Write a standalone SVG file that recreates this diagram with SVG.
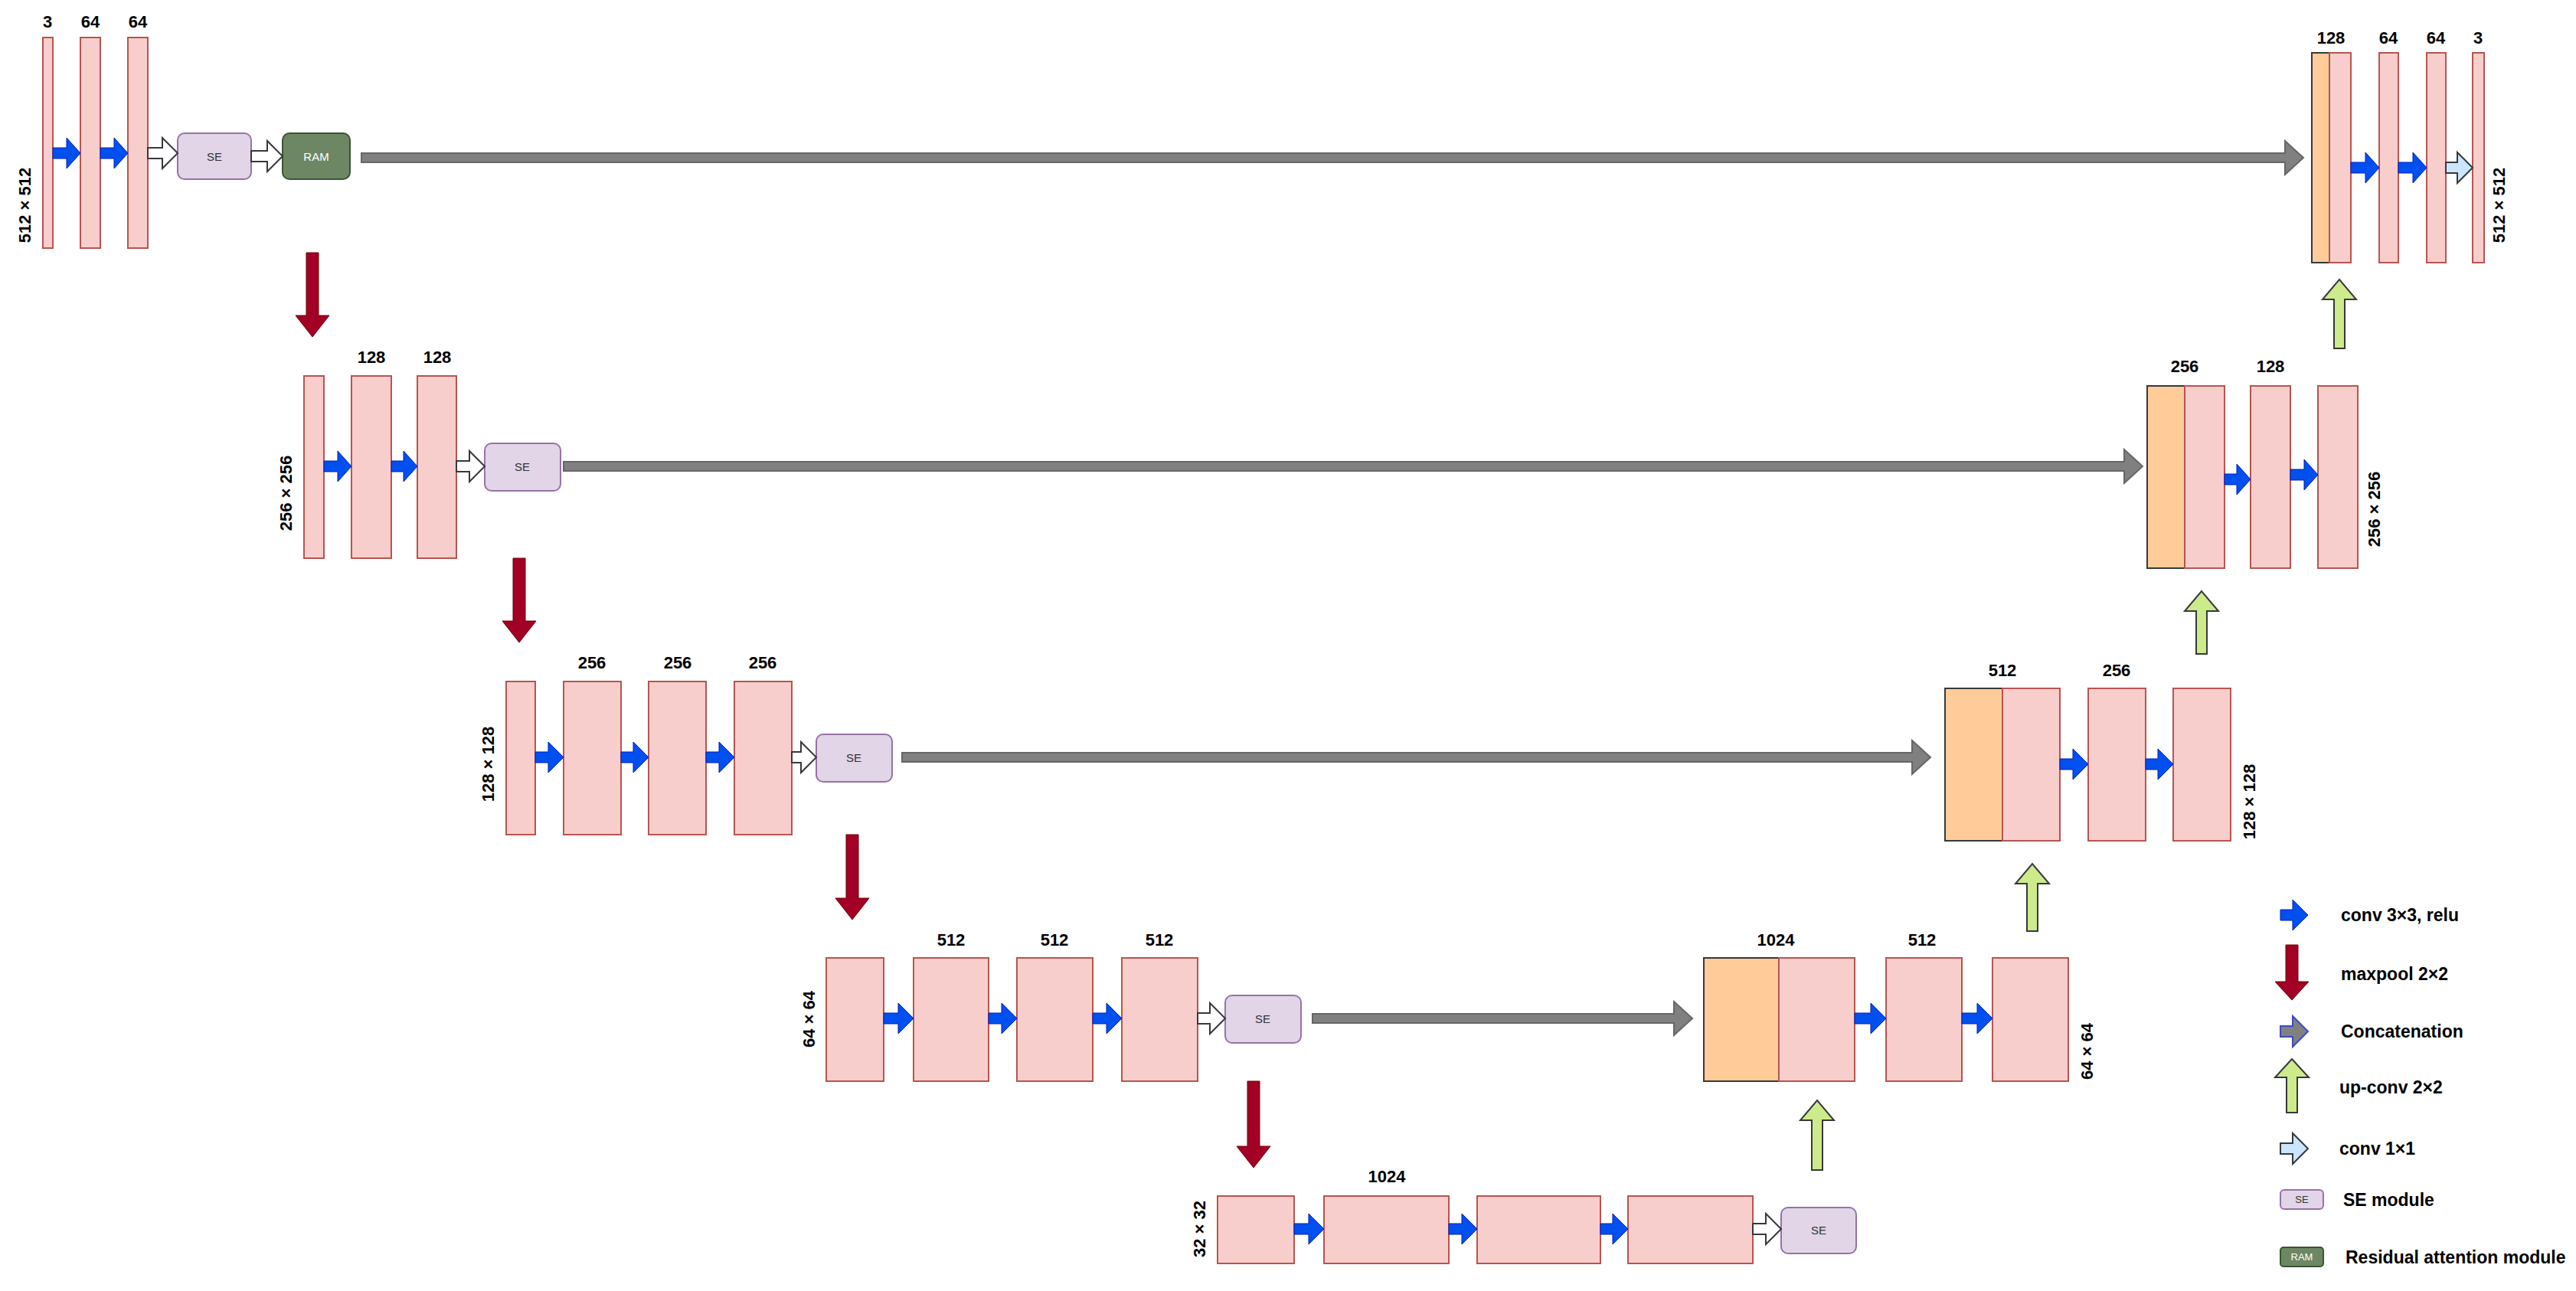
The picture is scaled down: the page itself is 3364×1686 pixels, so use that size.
<svg xmlns="http://www.w3.org/2000/svg" width="3364" height="1686" viewBox="0 0 3364 1686">
<style>
.b{fill:#f8cecc;stroke:#b85450;stroke-width:2}
.o{fill:#ffcc99;stroke:#36393d;stroke-width:2}
.se{fill:#e1d5e7;stroke:#9673a6;stroke-width:2}
.ram{fill:#6d8764;stroke:#3a5431;stroke-width:2}
.cv{fill:#0050ef;stroke:#001dbc;stroke-width:1}
.h{fill:#ffffff;stroke:#36393d;stroke-width:2}
.lb{fill:#cce5ff;stroke:#36393d;stroke-width:2}
.g{fill:#808080;stroke:#666666;stroke-width:2}
.r{fill:#a20025;stroke:#6f0000;stroke-width:1}
.u{fill:#cdeb8b;stroke:#36393d;stroke-width:2}
text{font-family:"Liberation Sans",Arial,sans-serif}
.t{font-size:22px;font-weight:bold;fill:#000;text-anchor:middle}
.s{font-size:15px;fill:#333;text-anchor:middle}
.sw{font-size:15px;fill:#fff;text-anchor:middle}
.lg{font-size:23px;font-weight:bold;fill:#000}
</style>
<rect width="3364" height="1686" fill="#fff"/>

<g id="level1-encoder">
<rect class="b" x="56" y="49" width="13" height="275"/>
<rect class="b" x="105" y="49" width="26" height="275"/>
<rect class="b" x="167" y="49" width="26" height="275"/>
<text class="t" x="62" y="36">3</text><text class="t" x="118" y="36">64</text><text class="t" x="180" y="36">64</text>
<text class="t" transform="translate(40 268) rotate(-90)">512 × 512</text>
</g>
<g id="se1"><rect class="se" x="232" y="174" width="96" height="60" rx="9"/><text class="s" x="280" y="210">SE</text></g>
<g id="ram1"><rect class="ram" x="369" y="174" width="88" height="60" rx="9"/><text class="sw" x="413" y="210">RAM</text></g>

<g id="level1-decoder">
<rect class="o" x="3019" y="69" width="23" height="274"/>
<rect class="b" x="3042" y="69" width="28" height="274"/>
<rect class="b" x="3107" y="69" width="25" height="274"/>
<rect class="b" x="3169" y="69" width="25" height="274"/>
<rect class="b" x="3229" y="69" width="15" height="274"/>
<text class="t" x="3044" y="57">128</text><text class="t" x="3119" y="57">64</text><text class="t" x="3181" y="57">64</text><text class="t" x="3236" y="57">3</text>
<text class="t" transform="translate(3271 268) rotate(-90)">512 × 512</text>
</g>

<g id="level2-encoder">
<rect class="b" x="397" y="491" width="26" height="238"/>
<rect class="b" x="459" y="491" width="52" height="238"/>
<rect class="b" x="545" y="491" width="51" height="238"/>
<text class="t" x="485" y="474">128</text><text class="t" x="571" y="474">128</text>
<text class="t" transform="translate(381 644) rotate(-90)">256 × 256</text>
</g>
<g id="se2"><rect class="se" x="633" y="579" width="99" height="62" rx="9"/><text class="s" x="682" y="615">SE</text></g>

<g id="level2-decoder">
<rect class="o" x="2804" y="504" width="49" height="238"/>
<rect class="b" x="2853" y="504" width="52" height="238"/>
<rect class="b" x="2939" y="504" width="52" height="238"/>
<rect class="b" x="3027" y="504" width="52" height="238"/>
<text class="t" x="2853" y="486">256</text><text class="t" x="2965" y="486">128</text>
<text class="t" transform="translate(3108 665) rotate(-90)">256 × 256</text>
</g>

<g id="level3-encoder">
<rect class="b" x="661" y="890" width="38" height="200"/>
<rect class="b" x="736" y="890" width="75" height="200"/>
<rect class="b" x="847" y="890" width="75" height="200"/>
<rect class="b" x="959" y="890" width="75" height="200"/>
<text class="t" x="773" y="873">256</text><text class="t" x="885" y="873">256</text><text class="t" x="996" y="873">256</text>
<text class="t" transform="translate(645 998) rotate(-90)">128 × 128</text>
</g>
<g id="se3"><rect class="se" x="1066" y="959" width="99" height="62" rx="9"/><text class="s" x="1115" y="995">SE</text></g>

<g id="level3-decoder">
<rect class="o" x="2540" y="899" width="75" height="199"/>
<rect class="b" x="2615" y="899" width="75" height="199"/>
<rect class="b" x="2727" y="899" width="75" height="199"/>
<rect class="b" x="2838" y="899" width="75" height="199"/>
<text class="t" x="2615" y="883">512</text><text class="t" x="2764" y="883">256</text>
<text class="t" transform="translate(2945 1047) rotate(-90)">128 × 128</text>
</g>

<g id="level4-encoder">
<rect class="b" x="1079" y="1251" width="75" height="161"/>
<rect class="b" x="1193" y="1251" width="98" height="161"/>
<rect class="b" x="1328" y="1251" width="99" height="161"/>
<rect class="b" x="1465" y="1251" width="99" height="161"/>
<text class="t" x="1242" y="1235">512</text><text class="t" x="1377" y="1235">512</text><text class="t" x="1514" y="1235">512</text>
<text class="t" transform="translate(1064 1331) rotate(-90)">64 × 64</text>
</g>
<g id="se4"><rect class="se" x="1600" y="1300" width="99" height="62" rx="9"/><text class="s" x="1649" y="1336">SE</text></g>

<g id="level4-decoder">
<rect class="o" x="2225" y="1251" width="98" height="161"/>
<rect class="b" x="2323" y="1251" width="99" height="161"/>
<rect class="b" x="2463" y="1251" width="99" height="161"/>
<rect class="b" x="2602" y="1251" width="99" height="161"/>
<text class="t" x="2319" y="1235">1024</text><text class="t" x="2510" y="1235">512</text>
<text class="t" transform="translate(2733 1373) rotate(-90)">64 × 64</text>
</g>

<g id="level5-bottleneck">
<rect class="b" x="1590" y="1562" width="100" height="88"/>
<rect class="b" x="1729" y="1562" width="163" height="88"/>
<rect class="b" x="1929" y="1562" width="161" height="88"/>
<rect class="b" x="2126" y="1562" width="163" height="88"/>
<text class="t" x="1811" y="1544">1024</text>
<text class="t" transform="translate(1574 1605) rotate(-90)">32 × 32</text>
</g>
<g id="se5"><rect class="se" x="2326" y="1577" width="98" height="60" rx="9"/><text class="s" x="2375" y="1612">SE</text></g>

<g id="connectors">
<!-- conv 3x3 -->
<path class="cv" d="M69 193H87V180L105 200L87 220V207H69Z"/>
<path class="cv" d="M131 193H149V180L167 200L149 220V207H131Z"/>
<path class="cv" d="M3070 212H3089V199L3107 219L3089 239V226H3070Z"/>
<path class="cv" d="M3132 212H3151V199L3169 219L3151 239V226H3132Z"/>
<path class="cv" d="M423 602H441V589L459 609L441 629V616H423Z"/>
<path class="cv" d="M511 602H527V589L545 609L527 629V616H511Z"/>
<path class="cv" d="M2905 619H2921V606L2939 626L2921 646V633H2905Z"/>
<path class="cv" d="M2991 613H3009V600L3027 620L3009 640V627H2991Z"/>
<path class="cv" d="M699 982H716V969L736 989L716 1009V996H699Z"/>
<path class="cv" d="M811 982H827V969L847 989L827 1009V996H811Z"/>
<path class="cv" d="M922 982H939V969L959 989L939 1009V996H922Z"/>
<path class="cv" d="M2690 991H2707V978L2727 998L2707 1018V1005H2690Z"/>
<path class="cv" d="M2802 991H2818V978L2838 998L2818 1018V1005H2802Z"/>
<path class="cv" d="M1154 1323H1173V1310L1193 1330L1173 1350V1337H1154Z"/>
<path class="cv" d="M1291 1323H1308V1310L1328 1330L1308 1350V1337H1291Z"/>
<path class="cv" d="M1427 1323H1445V1310L1465 1330L1445 1350V1337H1427Z"/>
<path class="cv" d="M2422 1323H2443V1310L2463 1330L2443 1350V1337H2422Z"/>
<path class="cv" d="M2562 1323H2582V1310L2602 1330L2582 1350V1337H2562Z"/>
<path class="cv" d="M1690 1598H1709V1585L1729 1605L1709 1625V1612H1690Z"/>
<path class="cv" d="M1892 1598H1909V1585L1929 1605L1909 1625V1612H1892Z"/>
<path class="cv" d="M2090 1598H2106V1585L2126 1605L2106 1625V1612H2090Z"/>
<!-- hollow -->
<path class="h" d="M193 193H212V180L232 200L212 220V207H193Z"/>
<path class="h" d="M328 197H349V184L369 204L349 224V211H328Z"/>
<path class="h" d="M596 602H613V589L633 609L613 629V616H596Z"/>
<path class="h" d="M1034 982H1046V969L1066 989L1046 1009V996H1034Z"/>
<path class="h" d="M1564 1323H1580V1310L1600 1330L1580 1350V1337H1564Z"/>
<path class="h" d="M2289 1598H2306V1585L2326 1605L2306 1625V1612H2289Z"/>
<!-- conv 1x1 -->
<path class="lb" d="M3194 212H3209V199L3229 219L3209 239V226H3194Z"/>
<!-- concatenation -->
<path class="g" d="M472 200H2984V184L3008 206L2984 228V212H472Z"/>
<path class="g" d="M736 603H2774V587L2798 609L2774 631V615H736Z"/>
<path class="g" d="M1178 983H2497V967L2521 989L2497 1011V995H1178Z"/>
<path class="g" d="M1714 1324H2186V1308L2210 1330L2186 1352V1336H1714Z"/>
<!-- maxpool -->
<path class="r" d="M400 330H416V412H430L408 440L386 412H400Z"/>
<path class="r" d="M670 729H686V811H700L678 839L656 811H670Z"/>
<path class="r" d="M1105 1090H1121V1173H1135L1113 1201L1091 1173H1105Z"/>
<path class="r" d="M1629 1412H1645V1497H1659L1637 1525L1615 1497H1629Z"/>
<!-- up-conv -->
<path class="u" d="M3048 455V391H3033L3055 365L3077 391H3062V455Z"/>
<path class="u" d="M2868 854V798H2853L2875 772L2897 798H2882V854Z"/>
<path class="u" d="M2647 1216V1154H2632L2654 1128L2676 1154H2661V1216Z"/>
<path class="u" d="M2366 1528V1463H2351L2373 1437L2395 1463H2380V1528Z"/>
</g>

<g id="legend">
<path class="cv" d="M2978 1188H2994V1175L3014 1195L2994 1215V1202H2978Z"/>
<text class="lg" x="3057" y="1203">conv 3×3, relu</text>
<path class="r" d="M2985 1234H3001V1282H3015L2993 1306L2971 1282H2985Z"/>
<text class="lg" x="3057" y="1280">maxpool 2×2</text>
<path class="g" style="stroke:#3a4cc0" d="M2978 1340H2994V1327L3014 1347L2994 1367V1354H2978Z"/>
<text class="lg" x="3057" y="1355">Concatenation</text>
<path class="u" d="M2986 1453V1407H2971L2993 1383L3015 1407H3000V1453Z"/>
<text class="lg" x="3055" y="1428">up-conv 2×2</text>
<path class="lb" d="M2978 1493H2994V1480L3014 1500L2994 1520V1507H2978Z"/>
<text class="lg" x="3055" y="1508">conv 1×1</text>
<g id="legend-se"><rect class="se" x="2978" y="1554" width="56" height="25" rx="5"/><text class="s" style="font-size:13px" x="3006" y="1571">SE</text></g>
<text class="lg" x="3060" y="1575">SE module</text>
<g id="legend-ram"><rect class="ram" x="2978" y="1629" width="56" height="25" rx="4"/><text class="sw" style="font-size:13px" x="3006" y="1646">RAM</text></g>
<text class="lg" x="3063" y="1650">Residual attention module</text>
</g>
</svg>
